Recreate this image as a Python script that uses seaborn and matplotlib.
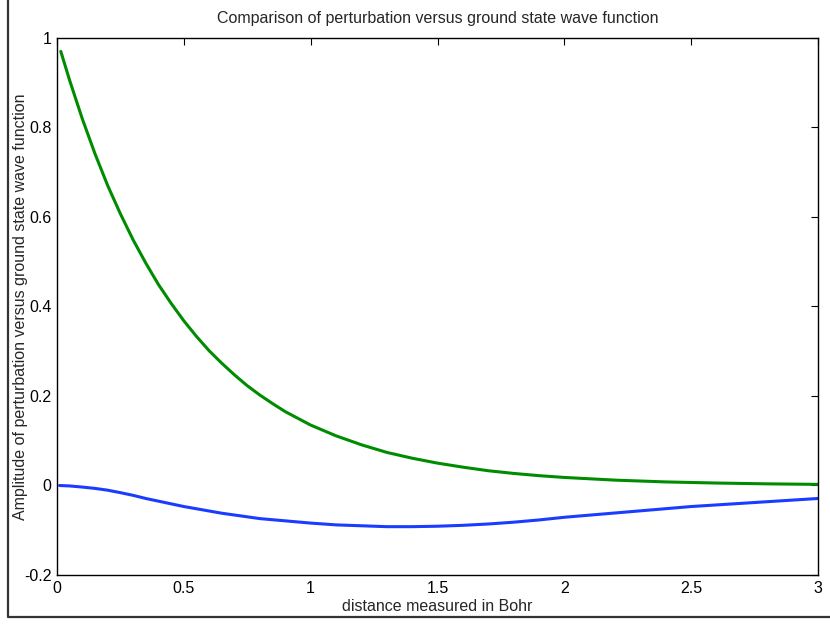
import numpy as np
import pandas as pd
import matplotlib
matplotlib.use("Agg")
import matplotlib.pyplot as plt
from matplotlib.lines import Line2D
import seaborn as sns

# values
r_ground = [0.015, 0.05, 0.1, 0.15, 0.2, 0.25, 0.3, 0.35, 0.4, 0.45, 0.5, 0.55, 0.6, 0.65,
            0.7, 0.75, 0.8, 0.85, 0.9, 0.95, 1.0, 1.1, 1.2, 1.3, 1.4, 1.5, 1.6, 1.7, 1.8,
            1.9, 2.0, 2.2, 2.4, 2.6, 2.8, 3.0]
psi_ground = [0.970, 0.905, 0.819, 0.741, 0.670, 0.607, 0.549, 0.497, 0.449, 0.407, 0.368,
              0.333, 0.301, 0.273, 0.247, 0.223, 0.202, 0.183, 0.165, 0.150, 0.135, 0.111,
              0.091, 0.074, 0.061, 0.050, 0.041, 0.033, 0.027, 0.022, 0.018, 0.012, 0.008,
              0.0055, 0.0037, 0.0025]

r_pert = [0.01, 0.05, 0.1, 0.15, 0.2, 0.25, 0.3, 0.35, 0.4, 0.45, 0.5, 0.55, 0.6, 0.65, 0.7,
          0.75, 0.8, 0.9, 1.0, 1.1, 1.2, 1.3, 1.4, 1.5, 1.6, 1.7, 1.8, 1.9, 2.0, 2.25, 2.5,
          2.75, 3.0]
psi_pert = [0.0, -0.001, -0.0035, -0.0065, -0.0105, -0.016, -0.022, -0.029, -0.035, -0.041,
            -0.047, -0.052, -0.057, -0.062, -0.066, -0.070, -0.074, -0.079, -0.084, -0.088,
            -0.090, -0.092, -0.092, -0.091, -0.089, -0.086, -0.082, -0.077, -0.071, -0.059,
            -0.047, -0.038, -0.029]

sns.set_style("white")
plt.rcParams['font.family'] = ['Liberation Sans', 'DejaVu Sans']

fig = plt.figure(figsize=(8.3, 6.24), dpi=100)
ax = fig.add_axes([57/830, 1-575/624, (818-57)/830, (575-38)/624])

sns.lineplot(x=r_pert, y=psi_pert, ax=ax, color='#1a3cff', linewidth=2.2, sort=False)
sns.lineplot(x=r_ground, y=psi_ground, ax=ax, color='#008c00', linewidth=2.2, sort=False)

ax.set_xlim(0, 3)
ax.set_ylim(-0.2, 1)
ax.set_xticks([0, 0.5, 1, 1.5, 2, 2.5, 3])
ax.set_xticklabels(['0', '0.5', '1', '1.5', '2', '2.5', '3'])
ax.set_yticks([-0.2, 0, 0.2, 0.4, 0.6, 0.8, 1])
ax.set_yticklabels(['-0.2', '0', '0.2', '0.4', '0.6', '0.8', '1'])
ax.tick_params(direction='in', length=5, width=0.8, top=True, right=True,
               labelsize=11.5, colors='black', pad=4)
for s in ax.spines.values():
    s.set_color('black')
    s.set_linewidth(1.0)

ax.set_title('Comparison of perturbation versus ground state wave function',
             fontsize=11.5, pad=11)
ax.set_xlabel('distance measured in Bohr', fontsize=11.5)
ax.set_ylabel('Amplitude of perturbation versus ground state wave function',
              fontsize=11.5)
ax.xaxis.set_label_coords(0.5, -0.044)
ax.yaxis.set_label_coords(-0.038, 0.5)

# frame of the cropped window, left and bottom edges
bx = 8/830
by = 1 - 617/624
fig.add_artist(Line2D([bx, bx, 1], [1, by, by], transform=fig.transFigure,
                      color='#333333', linewidth=1.6))

fig.savefig('out.png', dpi=100)
